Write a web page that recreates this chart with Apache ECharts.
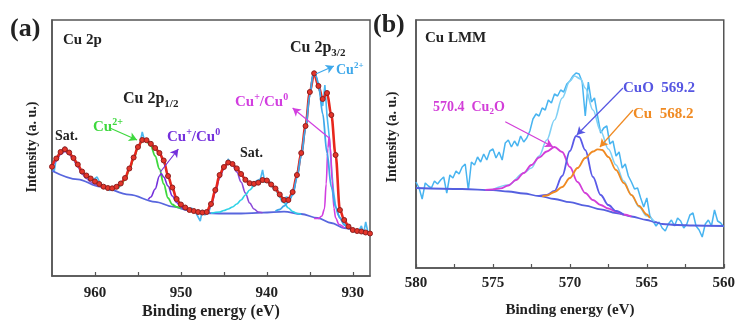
<!DOCTYPE html>
<html><head><meta charset="utf-8">
<script src="https://cdn.jsdelivr.net/npm/echarts@6/dist/echarts.min.js"></script>
<style>html,body{margin:0;padding:0;background:#fff}#c{width:738px;height:325px}</style>
</head><body><div id="c"></div>
<script>
// ---------- Panel (a): Cu 2p ----------
const aTicks = [930, 940, 950, 960];
const aMinorTicks = [930, 935, 940, 945, 950, 955, 960];
const aRaw = [[965,112],[964.75,104],[964.5,118],[964.25,121],[963.75,127],[963.5,129],[963.25,124],[962.75,120],[962.25,113],[961.75,108],[961.25,101],[960.75,99],[960.25,96],[959.75,99],[959.25,90],[958.75,88],[958.25,85.5],[957.75,89],[957.25,88],[956.75,95],[956.25,102],[955.75,113],[955.25,124],[954.75,133],[954.5,144],[954.25,136],[953.75,134],[953.25,130],[952.75,126],[952.25,119],[951.75,108],[951.25,94],[950.75,82],[950.25,74],[949.75,70],[949.25,66],[948.75,68],[948.25,63],[947.75,55],[947.5,66],[947.25,61],[946.75,64],[946.25,78],[945.75,93],[945.25,104],[944.75,111],[944.5,117],[944.25,113],[943.75,110],[943.25,105],[942.75,99],[942.25,94],[941.75,90],[941.25,95],[940.75,97],[940.5,106],[940.25,94],[939.75,96],[939.25,87],[938.75,86],[938.25,74],[937.75,79],[937.25,78],[936.75,92],[936.25,112],[935.75,136],[935.25,167],[934.75,196],[934.5,205],[934.25,198],[933.75,180],[933.5,170],[933.25,191],[933,160],[932.75,140],[932.5,110],[932.25,85],[932,70],[931.75,62],[931.25,55],[930.75,51],[930.25,48],[929.75,44],[929.25,46],[929,50],[928.75,42],[928.5,54],[928.25,44],[928,40]];
const aEnvelope = [[965,109.3],[964.5,117.5],[964,124],[963.5,126.7],[963,123.5],[962.5,118],[962,111.5],[961.5,104.5],[961,100.5],[960.5,97.5],[960,94.5],[959.5,92],[959,89.3],[958.5,88],[958,87.7],[957.5,89.2],[957,92.5],[956.5,98],[956,107.5],[955.5,118.5],[955,129],[954.5,136],[954,135.8],[953.5,132.2],[953,128],[952.5,123],[952,115.5],[951.5,100],[951,88.5],[950.5,77],[950,71.5],[949.5,68.5],[949,66],[948.5,65],[948,64],[947.5,63.5],[947,64],[946.5,72],[946,86],[945.5,101],[945,109],[944.5,113.5],[944,112],[943.5,107.6],[943,102],[942.5,96.2],[942,92.8],[941.5,92.2],[941,93.3],[940.5,96],[940,95.5],[939.5,91.5],[939,87.5],[938.5,81.5],[938,76],[937.5,76],[937,84],[936.5,101],[936,123],[935.5,150],[935,184],[934.5,202.7],[934,190],[933.5,177],[933,183],[932.5,161],[932,121],[931.5,66],[931,56],[930.5,49.5],[930,46],[929.5,45],[929,44.5],[928.5,43.5],[928,42.5]];
const aBackground = [[965,105.3],[962,96.7],[959.4,89.3],[956,81.3],[953,74.2],[950.9,69.3],[949,65.6],[947.7,63],[945,62.5],[943,62.5],[940.5,63.3],[938,64.3],[936,62],[934.1,58],[932.5,53],[931,48],[929.5,45.5],[928,43]];
const aSatHigh = [[965,107],[964.5,115],[964,121.5],[963.5,124.5],[963,121.5],[962.5,116],[962,109],[961.5,102],[961,97.5],[960.5,94],[960,91.5],[959.5,89.8],[959,88.3],[958.5,87.2],[958,86]];
const aCu2p12_Cu2 = [[958,86.2],[957.5,87.8],[957,90.8],[956.5,96.5],[956,106],[955.5,117],[955,128],[954.5,135.5],[954,134.5],[953.5,130],[953,120],[952.5,107],[952,92],[951.5,78],[951,71.5],[950.5,69],[950,67.6]];
const aCu2p12_Cu1 = [[953.8,76.5],[953.5,79],[953,87],[952.5,100],[952.3,102.5],[952,99],[951.5,90],[951,80],[950.5,73.5],[950,69],[949.5,66.5]];
const aSatMid1 = [[947.5,62.6],[947,63.5],[946.5,70],[946,83],[945.5,98],[945,107.5],[944.5,112.5],[944,111],[943.5,104],[943,94],[942.5,83],[942,73],[941.5,67],[941,64],[940.5,63.3]];
const aSatMid2 = [[946.5,62.8],[945.5,64],[945,65.5],[944.5,67],[944,69],[943.5,72],[943,76],[942.5,81],[942,86],[941.5,90],[941,93],[940.5,94.5],[940,94],[939.5,91],[939,86],[938.5,79],[938,73],[937.5,68],[937,64.5],[936.5,62.5],[936,61.8]];
const aCu2p32_Cu2 = [[939,65],[938.5,66.5],[938,70],[937.5,74],[937,81],[936.5,98],[936,120],[935.5,147],[935,181],[934.6,203],[934.3,200],[934,193],[933.5,162],[933,123],[932.5,89],[932,69],[931.5,58],[931,51],[930.5,47.5]];
const aCu2p32_Cu1 = [[934.5,57.5],[934,57.5],[933.6,60],[933.3,67],[933.1,92],[932.9,128],[932.75,139],[932.6,128],[932.4,95],[932.2,68],[932,58],[931.6,51.5],[931,48]];

// ---------- Panel (b): Cu LMM ----------
const bTicks = [560, 565, 570, 575, 580];
const bMinorTicks = [560, 562.5, 565, 567.5, 570, 572.5, 575, 577.5, 580];
const bRaw = [[580,86],[579.8,80],[579.6,69],[579.4,85],[579.2,82],[579,80],[578.8,87],[578.6,84],[578.4,88],[578.2,91],[578,75],[577.8,93],[577.6,90],[577.4,97],[577.2,94],[577,101],[576.8,104],[576.6,78],[576.4,106],[576.2,103],[576,111],[575.8,106],[575.6,114],[575.4,108],[575.2,117],[575,119],[574.8,110],[574.6,116],[574.4,108],[574.2,125],[574,128],[573.8,121],[573.6,127],[573.4,122],[573.2,132],[573,126],[572.8,130],[572.6,137],[572.4,149],[572.2,154],[572,152],[571.8,160],[571.6,158],[571.4,168],[571.2,165],[571,174],[570.8,172],[570.6,178],[570.4,176],[570.2,184],[570,187],[569.8,192],[569.6,195],[569.4,194],[569.2,186],[569,152],[568.8,186],[568.6,166],[568.4,170],[568.2,152],[568,135],[567.8,140],[567.6,142],[567.4,124],[567.2,127],[567,112],[566.8,116],[566.6,100],[566.4,104],[566.2,92],[566,86],[565.8,79],[565.6,80],[565.4,70],[565.2,61],[565,70],[564.8,52],[564.6,47],[564.4,42],[564.2,46],[564,40],[563.8,37],[563.6,44],[563.4,48],[563.2,42],[563,50],[562.8,47],[562.6,40],[562.4,44],[562.2,53],[562,55],[561.8,42],[561.6,38],[561.4,31],[561.2,44],[561,48],[560.8,42],[560.6,58],[560.4,47],[560.2,45],[560,41]];
const bBackground = [[580,80],[577,79],[575,77.8],[574,76.5],[573,74.5],[572,72],[571,69],[570,65.8],[569,62.3],[568,58.7],[567,55],[566,51.5],[565,48],[564.5,46],[564,44],[563,43],[562,42.5],[560,42]];
const bCu2O = [[575.5,78.2],[575,78.6],[574.5,79.6],[574,82.5],[573.5,88],[573,95],[572.5,103],[572,110.5],[571.5,116.5],[571,121],[570.5,116],[570,101],[569.5,86],[569,75],[568.5,68],[568,63],[567.5,59.5],[567,56.5],[566.5,53.5],[566,51.5]];
const bCuO = [[572,72],[571.5,73],[571,77],[570.5,92],[570,117],[569.6,132],[569.4,131],[569,118],[568.5,91],[568,73],[567.5,63],[567,57],[566.5,53.3]];
const bCu = [[571.8,71.5],[571.5,72.5],[571,76],[570.5,81],[570,90],[569.5,100],[569,110],[568.5,116.5],[568.2,118.7],[567.9,118],[567.5,111],[567,98],[566.5,85],[566,73],[565.5,62],[565,53.5],[564.8,50]];
const bEnvelope = [[575,78.5],[574,83],[573,95],[572.5,100],[572,112],[571.5,128],[571,148],[570.5,170],[570,187],[569.7,192],[569.3,189],[569,180],[568.5,158],[568,137],[567.5,119],[567,103],[566.5,87],[566,73],[565.5,61],[565,52],[564.5,46.5]];

// ---------- chart ----------
const FF = '"Liberation Serif","Times New Roman",serif';
const chart = echarts.init(document.getElementById('c'), null, {renderer: 'canvas'});
const mctx = document.createElement('canvas').getContext('2d');

function seg(x, y, parts, color, size) {
  const els = [];
  let cx = x;
  parts.forEach(p => {
    const t = p[0], k = p[1] || 'n';
    const fs = k === 'n' ? size : Math.round(size * 0.66);
    const dy = k === 'sub' ? size * 0.32 : (k === 'sup' ? -size * 0.33 : 0);
    const font = 'bold ' + fs + 'px ' + FF;
    mctx.font = font;
    els.push({type: 'text', x: cx, y: y + dy, silent: true, z: 100,
      style: {text: t, fill: color, font: font, verticalAlign: 'middle', align: 'left'}});
    cx += mctx.measureText(t).width;
  });
  return els;
}
function ctext(x, y, t, size, rot) {
  return {type: 'text', x: x, y: y, rotation: rot || 0, silent: true, z: 100,
    style: {text: t, fill: '#222', font: 'bold ' + size + 'px ' + FF, align: 'center', verticalAlign: 'middle'}};
}

function ln(data, color, width, gi, extra) {
  return Object.assign({type: 'line', data: data, xAxisIndex: gi, yAxisIndex: gi, symbol: 'none',
    silent: true, animation: false, smooth: 0.35, smoothMonotone: 'x',
    lineStyle: {color: color, width: width}, itemStyle: {color: color}}, extra || {});
}
function arrow(from, to, color) {
  return [{coord: from, lineStyle: {color: color, width: 1.2, type: 'solid'}}, {coord: to}];
}

const xBase = (gi, min, max, labels, ticks, margin, fs) => ({
  gridIndex: gi, type: 'value', min: min, max: max, inverse: true,
  axisLine: {show: true, onZero: false, lineStyle: {color: '#555', width: 1.5}},
  axisTick: {show: true, inside: true, length: 4, customValues: ticks, lineStyle: {color: '#555', width: 1.2}},
  axisLabel: {customValues: labels, color: '#222', fontFamily: FF, fontWeight: 'bold', fontSize: fs, margin: margin},
  splitLine: {show: false}
});
const yBase = (gi, max) => ({
  gridIndex: gi, type: 'value', min: 0, max: max,
  axisLine: {show: true, lineStyle: {color: '#555', width: 1.5}},
  axisTick: {show: false}, axisLabel: {show: false}, splitLine: {show: false}
});

const graphics = [].concat(
  seg(10, 29, [['(a)']], '#222', 26),
  seg(373, 25, [['(b)']], '#222', 26),
  seg(63, 40, [['Cu 2p']], '#222', 15),
  seg(290, 48, [['Cu 2p'], ['3/2', 'sub']], '#222', 16),
  seg(123, 99, [['Cu 2p'], ['1/2', 'sub']], '#222', 16),
  seg(55, 136, [['Sat.']], '#222', 14),
  seg(240, 153, [['Sat.']], '#222', 14),
  seg(93, 127, [['Cu'], ['2+', 'sup']], '#3ed83e', 15),
  seg(167, 137, [['Cu'], ['+', 'sup'], ['/Cu'], ['0', 'sup']], '#7430dc', 15),
  seg(235, 102, [['Cu'], ['+', 'sup'], ['/Cu'], ['0', 'sup']], '#d23ee0', 15),
  seg(336, 70, [['Cu'], ['2+', 'sup']], '#3ea8ea', 14),
  seg(425, 38, [['Cu LMM']], '#222', 15),
  seg(433, 107, [['570.4  Cu'], ['2', 'sub'], ['O']], '#d23ed8', 14),
  seg(623, 88, [['CuO  569.2']], '#5656e2', 15),
  seg(633, 114, [['Cu  568.2']], '#f08a22', 15),
  [ctext(32, 147, 'Intensity (a. u.)', 14, Math.PI / 2),
   ctext(392, 137, 'Intensity (a. u.)', 14, Math.PI / 2),
   ctext(211, 312, 'Binding energy (eV)', 16),
   ctext(570, 310, 'Binding energy (eV)', 15)]
);

const option = {
  animation: false,
  backgroundColor: '#fff',
  grid: [
    {left: 52, top: 20, width: 318, height: 256, show: true, borderColor: '#555', borderWidth: 1.5, backgroundColor: 'transparent'},
    {left: 416, top: 20, width: 308, height: 248, show: true, borderColor: '#555', borderWidth: 1.5, backgroundColor: 'transparent'}
  ],
  xAxis: [xBase(0, 928, 965, aTicks, aMinorTicks, 10, 15), xBase(1, 560, 580, bTicks, bMinorTicks, 8, 15)],
  yAxis: [yBase(0, 256), yBase(1, 248)],
  graphic: graphics,
  series: [
    ln(aRaw, '#4cb8f0', 1.6, 0, {smooth: false}),
    ln(aBackground, '#5866de', 1.8, 0, {
      markLine: {silent: true, symbol: ['none', 'arrow'], symbolSize: [7, 8], label: {show: false}, animation: false,
        data: [
          arrow([958.2, 147.7], [955.1, 136], '#3ed83e'),
          arrow([952.4, 104], [950.3, 127], '#7430dc'),
          arrow([932.75, 138], [937.0, 168], '#d23ee0'),
          arrow([934.3, 202], [932.2, 210], '#3ea8ea')
        ]}
    }),
    ln(aSatHigh, '#8a58d6', 1.6, 0),
    ln(aCu2p12_Cu2, '#3ed83e', 1.8, 0),
    ln(aCu2p12_Cu1, '#7430dc', 1.6, 0),
    ln(aSatMid1, '#8a48d8', 1.6, 0),
    ln(aSatMid2, '#2ed2e6', 1.6, 0),
    ln(aCu2p32_Cu1, '#d23ee0', 1.6, 0),
    ln(aEnvelope, '#e8261c', 2.6, 0, {
      symbol: 'circle', symbolSize: 5, showSymbol: true,
      itemStyle: {color: '#e4352a', borderColor: '#8e1f1f', borderWidth: 1}
    }),
    ln(aCu2p32_Cu2, '#3ea8ea', 1.8, 0),

    ln(bRaw, '#48b4f0', 1.5, 1, {smooth: false}),
    ln(bBackground, '#5560e0', 1.8, 1, {
      markLine: {silent: true, symbol: ['none', 'arrow'], symbolSize: [7, 8], label: {show: false}, animation: false,
        data: [
          arrow([574.2, 146.3], [571.1, 121.3], '#d23ed8'),
          arrow([566.55, 180], [569.55, 133], '#5656e2'),
          arrow([565.9, 158], [568.05, 121], '#f08a22')
        ]}
    }),
    ln(bEnvelope, '#80d0f5', 1.6, 1),
    ln(bCu2O, '#d23ed8', 1.8, 1),
    ln(bCuO, '#5a5ae8', 1.8, 1),
    ln(bCu, '#f08a22', 1.8, 1)
  ]
};
chart.setOption(option);
</script>
</body></html>
